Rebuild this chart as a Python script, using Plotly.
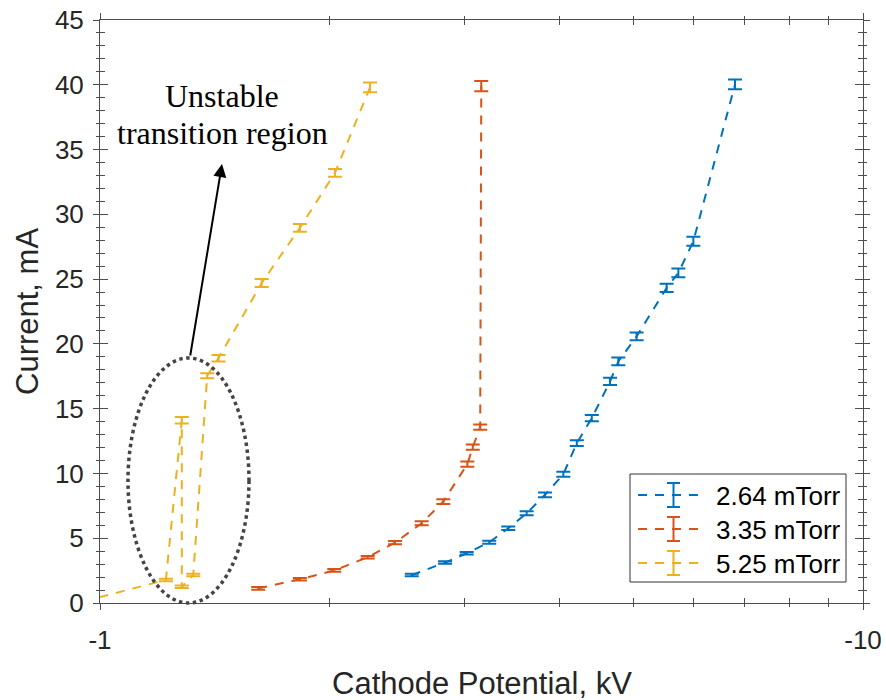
import plotly.graph_objects as go

# Discharge current vs. cathode potential (magnitude, kV) at three pressures
pressures = ["2.64 mTorr", "3.35 mTorr", "5.25 mTorr"]
colors = ["#0072BD", "#D95319", "#EDB120"]

v_264 = [2.562, 2.833, 3.024, 3.237, 3.428, 3.624, 3.83, 4.048, 4.216, 4.411,
         4.661, 4.779, 5.05, 5.529, 5.728, 5.993, 6.796]
i_264 = [2.16, 3.12, 3.84, 4.69, 5.77, 6.93, 8.35, 9.94, 12.34, 14.27,
         17.1, 18.65, 20.58, 24.32, 25.48, 27.92, 40.03]
e_264 = [0.1, 0.1, 0.1, 0.12, 0.13, 0.15, 0.18, 0.2, 0.22, 0.25,
         0.28, 0.3, 0.3, 0.32, 0.33, 0.35, 0.38]

v_335 = [1.612, 1.828, 2.028, 2.243, 2.436, 2.64, 2.818, 3.03, 3.08, 3.15, 3.16]
i_335 = [1.13, 1.83, 2.52, 3.53, 4.66, 6.16, 7.83, 10.72, 12.03, 13.58, 39.9]
e_335 = [0.1, 0.1, 0.1, 0.1, 0.12, 0.15, 0.18, 0.2, 0.2, 0.2, 0.4]

v_525 = [0.95, 1.22, 1.28, 1.28, 1.325, 1.382, 1.43, 1.629, 1.828, 2.032, 2.259]
i_525 = [0.12, 1.78, 14.1, 1.26, 2.16, 17.54, 18.9, 24.7, 28.96, 33.2, 39.8]
e_525 = [0.1, 0.1, 0.25, 0.1, 0.1, 0.2, 0.25, 0.3, 0.3, 0.3, 0.38]

series = [(v_264, i_264, e_264), (v_335, i_335, e_335), (v_525, i_525, e_525)]

x_tick_vals = [1, 10]
x_tick_text = ["-1", "-10"]
x_minor_vals = [2, 3, 4, 5, 6, 7, 8, 9]

AX = "#4d4d4d"
TXT = "#262626"
SANS = "Liberation Sans, Arial, sans-serif"
SERIF = "Liberation Serif, Times New Roman, serif"

fig = go.Figure()
for (v, i, e), name, c in zip(series, pressures, colors):
    fig.add_trace(go.Scatter(
        x=v, y=i, mode="lines", name=name,
        line=dict(color=c, width=2, dash="9px,8px"),
        error_y=dict(type="data", array=e, visible=True, color=c,
                     thickness=2, width=7),
        showlegend=False,
    ))

common_x = dict(type="log", range=[0, 1], tickvals=x_tick_vals,
                showgrid=False, zeroline=False, automargin=False)
common_y = dict(range=[0, 45], dtick=5, tick0=0, showgrid=False,
                zeroline=False, automargin=False)

fig.update_layout(
    width=886, height=700, autosize=False,
    margin=dict(l=100, r=23, t=20, b=97),
    paper_bgcolor="white", plot_bgcolor="white",
    xaxis=dict(
        **common_x, ticktext=x_tick_text,
        ticks="inside", ticklen=8, tickwidth=1, tickcolor=AX,
        showline=True, linecolor=AX, linewidth=1, mirror="ticks",
        tickfont=dict(family=SANS, size=26, color=TXT),
        ticklabelstandoff=14,
        minor=dict(tickvals=x_minor_vals, ticks="inside", ticklen=5,
                   tickcolor=AX, tickwidth=1),
    ),
    yaxis=dict(
        **common_y,
        ticks="inside", ticklen=8, tickwidth=1, tickcolor=AX,
        showline=True, linecolor=AX, linewidth=1, mirror="ticks",
        tickfont=dict(family=SANS, size=26, color=TXT),
        ticklabelstandoff=10,
        minor=dict(dtick=1, ticks="inside", ticklen=5,
                   tickcolor=AX, tickwidth=1),
    ),
    # companion axes carry the outward half of each tick mark
    xaxis2=dict(
        **common_x, overlaying="x", anchor="y", side="bottom",
        showticklabels=False, ticks="outside", ticklen=6, tickwidth=1,
        tickcolor=AX, mirror="ticks", showline=False,
        minor=dict(tickvals=x_minor_vals, ticks="outside", ticklen=3,
                   tickcolor=AX, tickwidth=1),
    ),
    yaxis2=dict(
        **common_y, overlaying="y", anchor="x", side="left",
        showticklabels=False, ticks="outside", ticklen=6, tickwidth=1,
        tickcolor=AX, mirror="ticks", showline=False,
        minor=dict(dtick=1, ticks="outside", ticklen=3,
                   tickcolor=AX, tickwidth=1),
    ),
)

# invisible trace so the companion axes are drawn
fig.add_trace(go.Scatter(x=[None], y=[None], xaxis="x2", yaxis="y2",
                         showlegend=False, hoverinfo="skip"))


def px(xp):
    return (xp - 100) / 763


def py(yp):
    return (603 - yp) / 583


annotations = [
    dict(text="Cathode Potential, kV", x=0.5, y=py(683), xref="paper",
         yref="paper", showarrow=False, xanchor="center", yanchor="middle",
         font=dict(family=SANS, size=31, color=TXT)),
    dict(text="Current, mA", x=px(27), y=py(312), xref="paper", yref="paper",
         showarrow=False, textangle=-90, xanchor="center", yanchor="middle",
         font=dict(family=SANS, size=31, color=TXT)),
    dict(text="Unstable", x=px(222), y=py(96), xref="paper", yref="paper",
         showarrow=False, xanchor="center", yanchor="middle",
         font=dict(family=SERIF, size=32, color="black")),
    dict(text="transition region", x=px(222), y=py(133), xref="paper",
         yref="paper", showarrow=False, xanchor="center", yanchor="middle",
         font=dict(family=SERIF, size=32, color="black")),
    dict(text="", x=px(222), y=py(164), xref="paper", yref="paper",
         showarrow=True, ax=-32, ay=193, arrowhead=2, arrowsize=1.3,
         arrowwidth=2, arrowcolor="black"),
]

shapes = [
    # dotted ellipse around the unstable points
    dict(type="circle", xref="paper", yref="paper",
         x0=px(128), x1=px(249), y0=py(603), y1=py(358),
         line=dict(color="#444444", width=3.5, dash="dot")),
    # legend frame
    dict(type="rect", xref="paper", yref="paper",
         x0=px(630), x1=px(846), y0=py(582), y1=py(474),
         line=dict(color="#333333", width=1), fillcolor="white"),
]

legend_rows = [495, 529, 563]
for name, c, yc in zip(pressures, colors, legend_rows):
    shapes.append(dict(type="line", xref="paper", yref="paper",
                       x0=px(638), x1=px(702), y0=py(yc), y1=py(yc),
                       line=dict(color=c, width=2, dash="9px,8px")))
    shapes.append(dict(type="line", xref="paper", yref="paper",
                       x0=px(673.5), x1=px(673.5), y0=py(yc - 12), y1=py(yc + 12),
                       line=dict(color=c, width=2)))
    for dy in (-12, 12):
        shapes.append(dict(type="line", xref="paper", yref="paper",
                           x0=px(667), x1=px(680), y0=py(yc + dy), y1=py(yc + dy),
                           line=dict(color=c, width=2)))
    annotations.append(dict(text=name, x=px(714), y=py(yc + 1), xref="paper",
                            yref="paper", showarrow=False, xanchor="left",
                            yanchor="middle",
                            font=dict(family=SANS, size=26, color="black")))

fig.update_layout(annotations=annotations, shapes=shapes)

fig.write_html("out.html")
